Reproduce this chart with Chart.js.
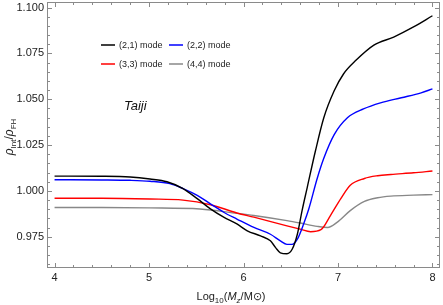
<!DOCTYPE html>
<html>
<head>
<meta charset="utf-8">
<script src="https://cdn.jsdelivr.net/npm/chart.js@4"></script>
<style>
  body { margin: 0; background: #fff; }
  canvas { display: block; }
</style>
</head>
<body>
<canvas id="chart" width="443" height="305"></canvas>
<script>
// log10 of the mass, one x list per mode
const x21 = [4.0, 4.5, 4.8, 5.01, 5.19, 5.36, 5.51, 5.65, 5.79, 5.93, 6.04, 6.18, 6.285, 6.34, 6.39, 6.46, 6.515, 6.57, 6.62, 6.675, 6.76, 6.85, 6.96, 7.06, 7.19, 7.38, 7.59, 7.8, 8.0];
const y21 = [1.0081, 1.0080, 1.0076, 1.0065, 1.0050, 1.0013, 0.9958, 0.9902, 0.9857, 0.9820, 0.9783, 0.9755, 0.9728, 0.9691, 0.9663, 0.9658, 0.9682, 0.9764, 0.9893, 1.0020, 1.0215, 1.0399, 1.0546, 1.0639, 1.0712, 1.0795, 1.0839, 1.0894, 1.0955];

const x22 = [4.0, 4.5, 4.8, 5.01, 5.22, 5.36, 5.51, 5.65, 5.79, 5.93, 6.11, 6.285, 6.39, 6.46, 6.515, 6.57, 6.64, 6.69, 6.78, 6.85, 6.96, 7.1, 7.27, 7.45, 7.67, 7.88, 8.0];
const y22 = [1.0061, 1.0060, 1.0058, 1.0053, 1.0040, 1.0013, 0.9976, 0.9930, 0.9884, 0.9847, 0.9801, 0.9764, 0.9728, 0.9709, 0.9709, 0.9737, 0.9825, 0.9900, 1.0068, 1.0178, 1.0307, 1.0399, 1.0447, 1.0480, 1.0508, 1.0535, 1.0556];

const x33 = [4.0, 4.5, 5.01, 5.36, 5.65, 5.93, 6.11, 6.46, 6.6, 6.71, 6.82, 6.92, 7.03, 7.13, 7.28, 7.42, 7.56, 7.8, 8.0];
const y33 = [0.9960, 0.9960, 0.9956, 0.9950, 0.9925, 0.9880, 0.9857, 0.9810, 0.9792, 0.9778, 0.9789, 0.9866, 0.9958, 1.0031, 1.0068, 1.0083, 1.0090, 1.0099, 1.0109];

const x44 = [4.0, 4.5, 5.0, 5.54, 5.93, 6.11, 6.46, 6.6, 6.78, 6.89, 6.99, 7.13, 7.28, 7.42, 7.56, 7.8, 8.0];
const y44 = [0.9910, 0.9910, 0.9908, 0.9902, 0.9878, 0.9866, 0.9838, 0.9825, 0.9807, 0.9801, 0.9829, 0.9893, 0.9943, 0.9963, 0.9972, 0.9977, 0.9980];

const modeLabels = ['(2,1) mode', '(2,2) mode', '(3,3) mode', '(4,4) mode'];
const modeColors = ['#000000', '#0000ff', '#ff0000', '#888888'];

const xTicks = [4, 5, 6, 7, 8];
const yTicks = [0.975, 1.000, 1.025, 1.050, 1.075, 1.100];

const FONT = 'Liberation Sans, Arial, sans-serif';

function toPoints(xs, ys) {
    return xs.map((x, i) => ({ x: x, y: ys[i] }));
}

const series = [[x21, y21], [x22, y22], [x33, y33], [x44, y44]];

// frame with ticks on all four sides, like Mathematica's Frame -> True
const framePlugin = {
    id: 'frame',
    afterDatasetsDraw(chart) {
        const { ctx, chartArea: a, scales: { x, y } } = chart;
        ctx.save();
        ctx.strokeStyle = '#8a8a8a';
        ctx.lineWidth = 1;
        ctx.strokeRect(a.left + 0.5, a.top + 0.5, a.right - a.left - 1, a.bottom - a.top - 1);

        ctx.beginPath();
        for (let i = 19; i <= 41; i++) {
            const v = i / 5;
            const px = Math.round(x.getPixelForValue(v)) + 0.5;
            if (px < a.left || px > a.right) continue;
            const len = i % 5 === 0 ? 5 : 3;
            ctx.moveTo(px, a.bottom);
            ctx.lineTo(px, a.bottom - len);
            ctx.moveTo(px, a.top);
            ctx.lineTo(px, a.top + len);
        }
        for (let i = 191; i <= 221; i++) {
            const v = i / 200;
            const py = Math.round(y.getPixelForValue(v)) + 0.5;
            if (py < a.top || py > a.bottom) continue;
            const len = i % 5 === 0 ? 5 : 3;
            ctx.moveTo(a.left, py);
            ctx.lineTo(a.left + len, py);
            ctx.moveTo(a.right, py);
            ctx.lineTo(a.right - len, py);
        }
        ctx.stroke();
        ctx.restore();
    }
};

// draw a run of pieces [text, font, dy] centred on cx
function drawRuns(ctx, runs, cx, baseline) {
    let w = 0;
    runs.forEach(r => { ctx.font = r[1]; w += ctx.measureText(r[0]).width; });
    let xx = cx - w / 2;
    runs.forEach(r => {
        ctx.font = r[1];
        ctx.fillText(r[0], xx, baseline + r[2]);
        xx += ctx.measureText(r[0]).width;
    });
}

const labelsPlugin = {
    id: 'labels',
    afterDraw(chart) {
        const { ctx, chartArea: a } = chart;
        ctx.save();
        ctx.fillStyle = '#222';
        ctx.textBaseline = 'alphabetic';
        ctx.textAlign = 'left';

        // legend, 2 x 2 inside the plot
        const cols = [a.left + 54, a.left + 122];
        const rows = [a.top + 43, a.top + 62];
        modeLabels.forEach((lab, i) => {
            const lx = cols[i % 2];
            const ly = rows[Math.floor(i / 2)];
            ctx.strokeStyle = modeColors[i];
            ctx.lineWidth = 1.5;
            ctx.beginPath();
            ctx.moveTo(lx, ly);
            ctx.lineTo(lx + 14, ly);
            ctx.stroke();
            ctx.font = '9px ' + FONT;
            ctx.fillStyle = '#222';
            ctx.fillText(lab, lx + 18, ly + 3);
        });

        // detector name
        ctx.font = 'italic 13px ' + FONT;
        ctx.fillStyle = '#111';
        ctx.fillText('Taiji', a.left + 77, a.top + 108);

        // x axis title
        const big = '11px ' + FONT, bigI = 'italic 11px ' + FONT;
        const small = '8px ' + FONT, smallI = 'italic 8px ' + FONT;
        ctx.fillStyle = '#222';
        drawRuns(ctx, [
            ['Log', big, 0], ['10', small, 3], ['(', big, 0], ['M', bigI, 0],
            ['z', smallI, 3], ['/M\u2299)', big, 0]
        ], 231, 300);

        // y axis title, rotated
        ctx.translate(13, 137);
        ctx.rotate(-Math.PI / 2);
        const rho = 'italic 12px ' + FONT;
        drawRuns(ctx, [
            ['\u03C1', rho, 0], ['Int', small, 3], ['/', '12px ' + FONT, 0],
            ['\u03C1', rho, 0], ['FH', small, 3]
        ], 0, 0);
        ctx.restore();
    }
};

new Chart(document.getElementById('chart'), {
    type: 'line',
    data: {
        datasets: series.map((s, i) => ({
            label: modeLabels[i],
            data: toPoints(s[0], s[1]),
            borderColor: modeColors[i],
            borderWidth: 1.4,
            pointRadius: 0,
            fill: false,
            cubicInterpolationMode: 'monotone'
        }))
    },
    options: {
        responsive: false,
        animation: false,
        layout: { padding: { top: 2, right: 3, left: 0, bottom: 0 } },
        plugins: { legend: { display: false }, tooltip: { enabled: false } },
        scales: {
            x: {
                type: 'linear',
                min: 3.92,
                max: 8.08,
                afterBuildTicks: s => { s.ticks = xTicks.map(v => ({ value: v })); },
                afterFit: s => { s.height = 37; s.paddingLeft = 0; s.paddingRight = 0; },
                grid: { display: false, drawTicks: false },
                border: { display: false },
                ticks: { padding: 3, maxRotation: 0, color: '#222', font: { family: FONT, size: 11 } }
            },
            y: {
                min: 0.958,
                max: 1.103,
                afterBuildTicks: s => { s.ticks = yTicks.map(v => ({ value: v })); },
                afterFit: s => { s.width = 47; s.paddingTop = 0; s.paddingBottom = 0; },
                grid: { display: false, drawTicks: false },
                border: { display: false },
                ticks: { padding: 3, color: '#222', font: { family: FONT, size: 11 }, callback: v => v.toFixed(3) }
            }
        }
    },
    plugins: [framePlugin, labelsPlugin]
});
</script>
</body>
</html>
